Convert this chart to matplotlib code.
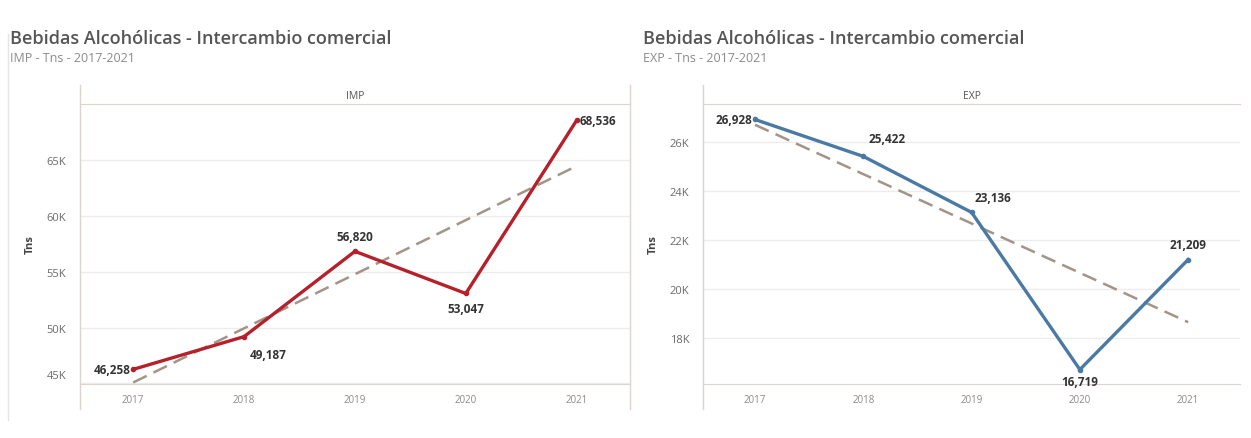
import matplotlib.pyplot as plt
from matplotlib.lines import Line2D
from matplotlib.ticker import FuncFormatter
from matplotlib.transforms import ScaledTranslation
import numpy as np

years = ["2017", "2018", "2019", "2020", "2021"]
imp_values = [46258, 49187, 56820, 53047, 68536]
exp_values = [26928, 25422, 23136, 16719, 21209]

imp_ticks = [45000, 50000, 55000, 60000, 65000]
exp_ticks = [18000, 20000, 22000, 24000, 26000]

# label placement: (dx points, dy points, ha, va)
imp_label_pos = [(-2, 0, "right", "center"), (4, -8, "left", "top"),
                 (0, 6, "center", "bottom"), (0, -6, "center", "top"),
                 (2, 0, "left", "center")]
exp_label_pos = [(-2, 0, "right", "center"), (4, 8, "left", "bottom"),
                 (2, 6, "left", "bottom"), (0, -4, "center", "top"),
                 (0, 6, "center", "bottom")]

plt.rcParams["font.family"] = ["Open Sans", "DejaVu Sans"]

fig = plt.figure(figsize=(12.51, 4.39), dpi=100)
fig.patch.set_facecolor("white")

GRID = "#ececec"
AXLINE = "#ddd3d0"
TICK = "#8a8a8a"


def k_fmt(v, _):
    return f"{int(round(v / 1000))}K"


def draw_panel(rect, values, ticks, ylim, color, header, title, subtitle, title_x,
               label_pos, lift_first=False, right_rule=False):
    ax = fig.add_axes(rect)
    x = np.arange(len(years))

    ax.set_xlim(-0.48, len(years) - 0.52)
    ax.set_ylim(*ylim)
    ax.set_yticks(ticks)
    ax.yaxis.set_major_formatter(FuncFormatter(k_fmt))
    ax.set_xticks(x)
    ax.set_xticklabels(years)
    ax.tick_params(axis="both", length=0, colors=TICK, labelsize=7)
    ax.tick_params(axis="y", pad=10, labelcolor="#6a6a6a", labelsize=8)
    ax.tick_params(axis="x", pad=7)
    ax.grid(axis="y", color=GRID, linewidth=1)
    ax.set_axisbelow(True)
    ax.spines["right"].set_visible(False)
    ax.spines["top"].set_color(AXLINE)
    ax.spines["bottom"].set_color(AXLINE)
    ax.spines["left"].set_visible(False)
    ax.set_ylabel("Tns", fontsize=8, fontweight="bold", color="#444444", labelpad=8)

    if lift_first:
        # bottom tick label sits just above the baseline
        lbl = ax.get_yticklabels()[0]
        lbl.set_transform(lbl.get_transform() + ScaledTranslation(0, 7 / 72, fig.dpi_scale_trans))

    # trend line
    coef = np.polyfit(x, values, 1)
    ax.plot(x, np.polyval(coef, x), color="#a39488", linewidth=1.8,
            dashes=(6, 3), zorder=2)

    ax.plot(x, values, color=color, linewidth=2.4, marker="o", markersize=3, zorder=3)

    for xi, v, (dx, dy, ha, va) in zip(x, values, label_pos):
        ax.annotate(f"{v:,}", (xi, v), xytext=(dx, dy), textcoords="offset points",
                    ha=ha, va=va, fontsize=8.5, fontweight="bold", color="#333333")

    ax.text(0.5, 1.03, header, transform=ax.transAxes, ha="center", va="center",
            fontsize=7.5, color="#555555")

    fig.text(title_x, 0.912, title, fontsize=13, fontweight="semibold",
             color="#555555", ha="left", va="center")
    fig.text(title_x, 0.866, subtitle, fontsize=9, color="#8a8a8a",
             ha="left", va="center")

    # pane rules running from above the header to below the axis
    x0 = rect[0]
    fig.add_artist(Line2D([x0, x0], [0.066, 0.805], color=AXLINE, linewidth=1))
    if right_rule:
        x1 = rect[0] + rect[2]
        fig.add_artist(Line2D([x1, x1], [0.066, 0.805], color=AXLINE, linewidth=1))
    return ax


draw_panel([0.0639, 0.123, 0.4396, 0.6378], imp_values, imp_ticks, (44950, 70000),
           "#b5202b", "IMP", "Bebidas Alcohólicas - Intercambio comercial",
           "IMP - Tns - 2017-2021", 0.008, imp_label_pos, lift_first=True, right_rule=True)
draw_panel([0.562, 0.123, 0.4293, 0.6378], exp_values, exp_ticks, (16130, 27560),
           "#4a7aa4", "EXP", "Bebidas Alcohólicas - Intercambio comercial",
           "EXP - Tns - 2017-2021", 0.514, exp_label_pos)

# faint page border at left
fig.add_artist(Line2D([0.006, 0.006], [0.04, 0.92], color="#e4e4e4", linewidth=1))

fig.savefig("out.png", dpi=100, facecolor="white")
